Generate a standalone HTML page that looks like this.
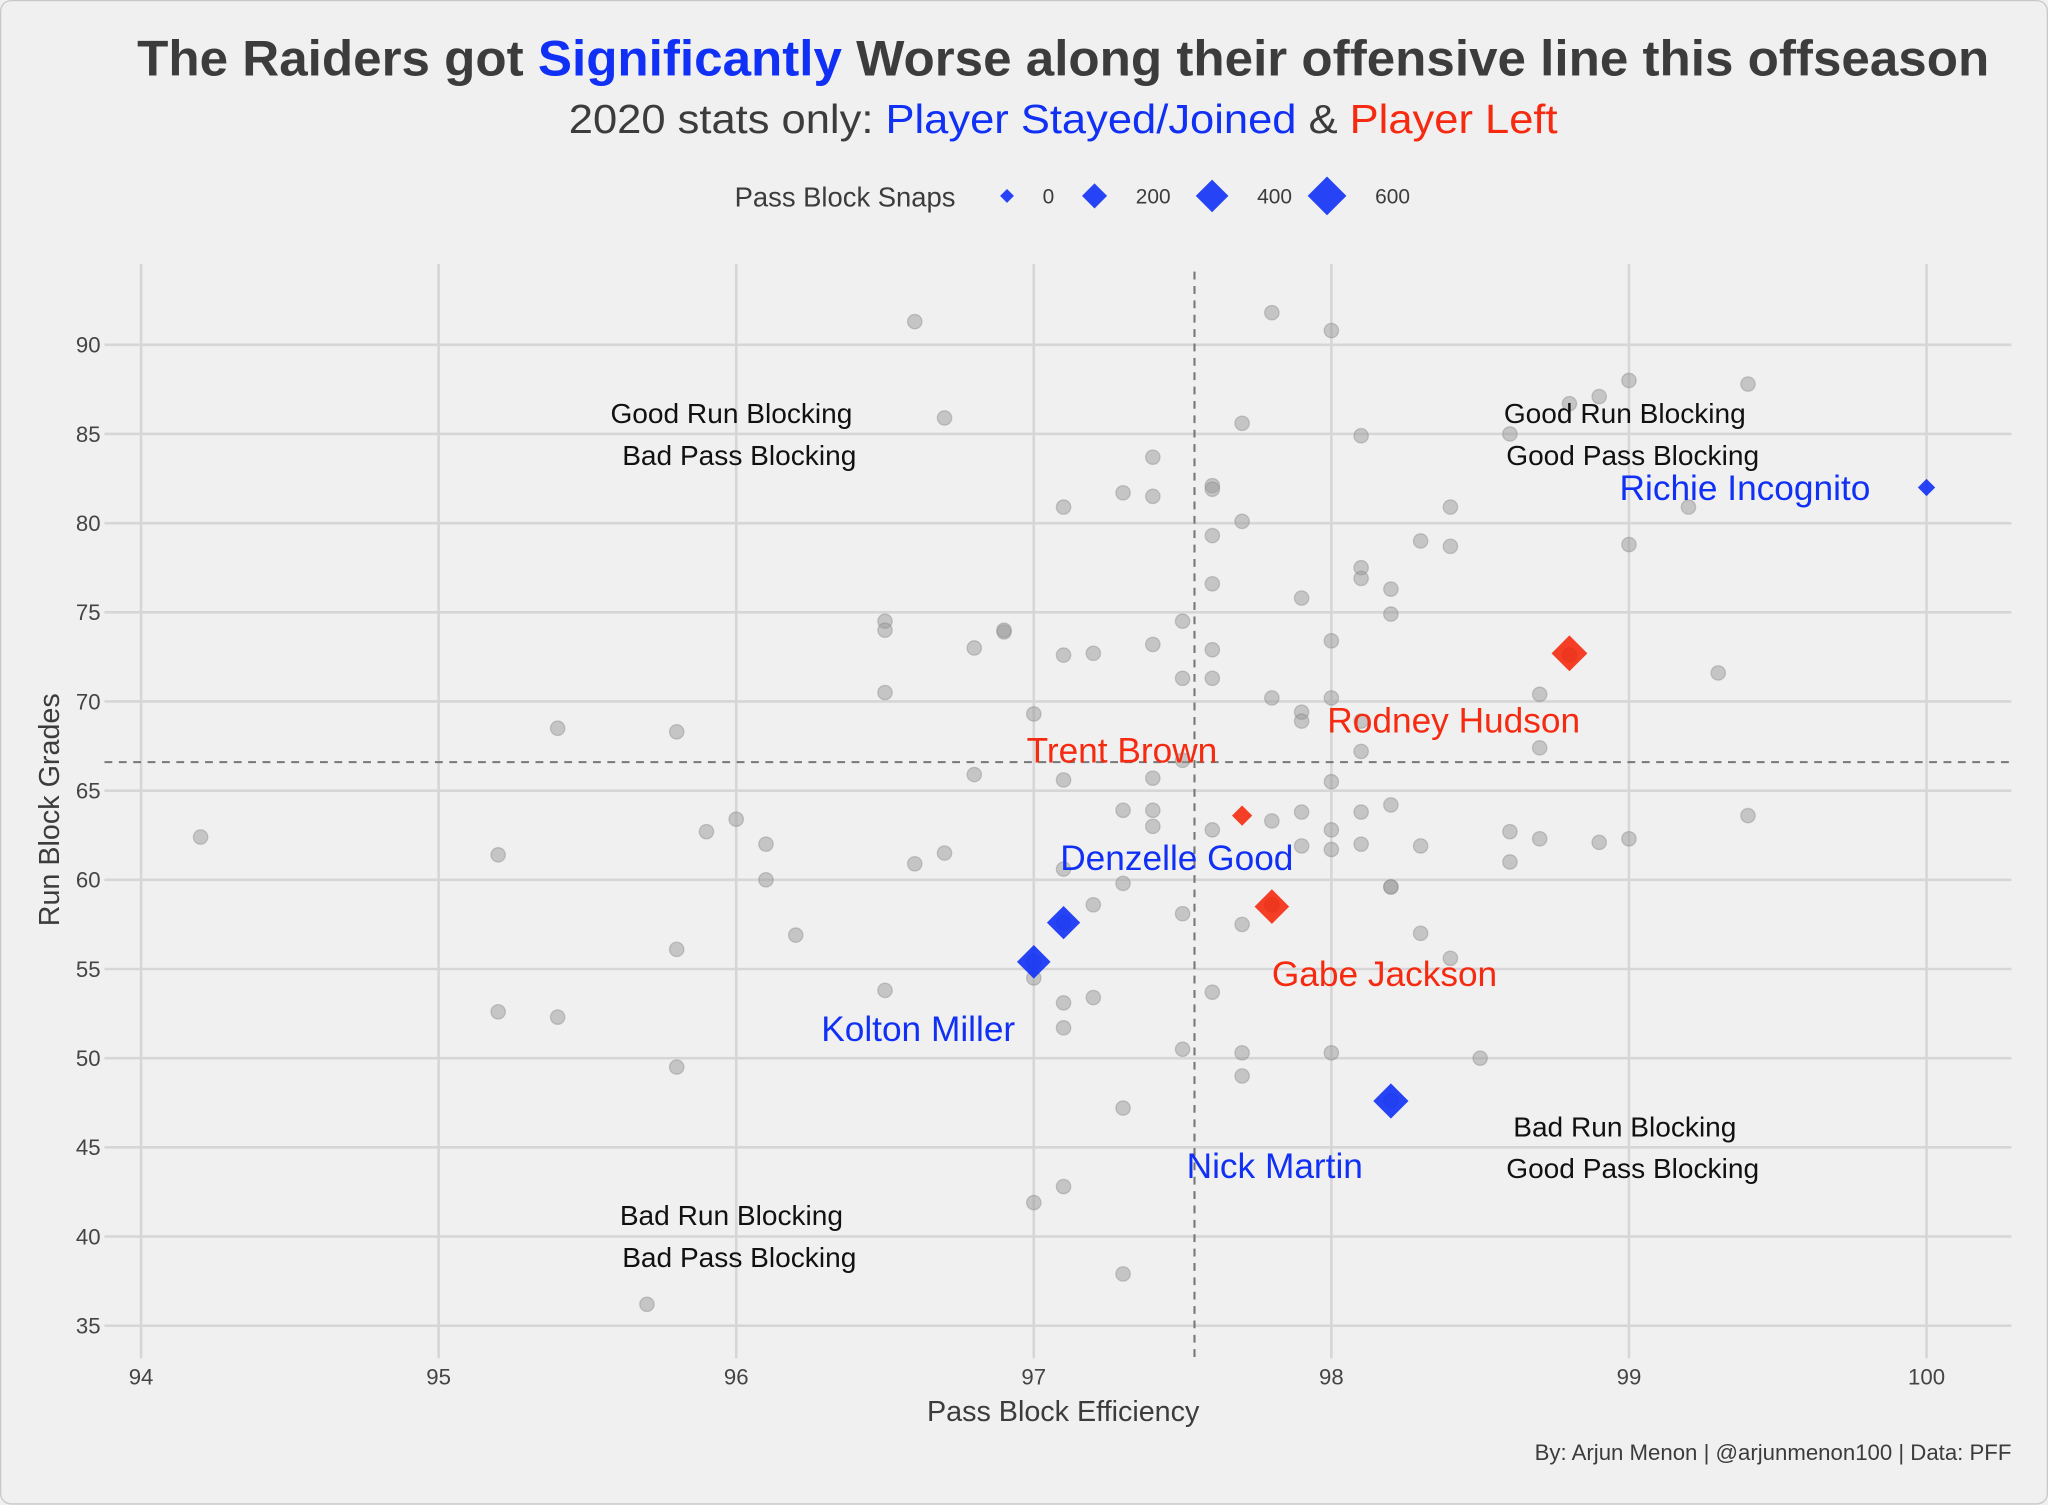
<!DOCTYPE html>
<html><head><meta charset="utf-8"><style>
html,body{margin:0;padding:0;background:#f0f0f0;}
svg{display:block;font-family:"Liberation Sans",Arial,sans-serif;}
</style></head><body>
<svg id="chart" width="2048" height="1505" viewBox="0 0 1568 1152.3" preserveAspectRatio="none" xmlns="http://www.w3.org/2000/svg">
<rect x="0.5" y="0.5" width="1567" height="1151" rx="8" fill="#f0f0f0" stroke="#c8c8c8"/>
<text x="814" y="58" text-anchor="middle" font-size="38" font-weight="bold" fill="#3c3c3c" textLength="1418" lengthAdjust="spacingAndGlyphs">The Raiders got <tspan fill="#1030f5">Significantly</tspan> Worse along their offensive line this offseason</text>
<text x="814" y="102" text-anchor="middle" font-size="31" fill="#3c3c3c" textLength="757" lengthAdjust="spacingAndGlyphs">2020 stats only: <tspan fill="#1030f5">Player Stayed/Joined</tspan> &amp; <tspan fill="#f52a10">Player Left</tspan></text>
<g id="legend"></g>
<g id="grid"></g>
<g id="points"></g>
<g id="annot">
<text font-size="21.5" fill="#111" text-anchor="middle"><tspan x="560" y="324">Good Run Blocking</tspan><tspan x="566" y="356">Bad Pass Blocking</tspan></text>
<text font-size="21.5" fill="#111" text-anchor="middle"><tspan x="1244" y="324">Good Run Blocking</tspan><tspan x="1250" y="356">Good Pass Blocking</tspan></text>
<text font-size="21.5" fill="#111" text-anchor="middle"><tspan x="1244" y="870">Bad Run Blocking</tspan><tspan x="1250" y="902">Good Pass Blocking</tspan></text>
<text font-size="21.5" fill="#111" text-anchor="middle"><tspan x="560" y="938">Bad Run Blocking</tspan><tspan x="566" y="970">Bad Pass Blocking</tspan></text>
</g>
<g id="labels"></g>
<text x="814" y="1088" text-anchor="middle" font-size="22" fill="#3c3c3c">Pass Block Efficiency</text>
<text transform="translate(45,620) rotate(-90)" text-anchor="middle" font-size="22" fill="#3c3c3c">Run Block Grades</text>
<text x="1540" y="1118" text-anchor="end" font-size="17" fill="#3c3c3c">By: Arjun Menon | @arjunmenon100 | Data: PFF</text>
</svg>
<script>
const xTicks=[94,95,96,97,98,99,100];
const yTicks=[35,40,45,50,55,60,65,70,75,80,85,90];
const otherX=[96.6,97.8,98,96.7,97.7,98.1,97.4,97.6,97.6,97.3,97.4,97.1,97.7,98.4,98.3,98.4,97.6,99,99.2,98.1,98.1,98.2,97.6,97.9,98.2,96.5,96.5,96.9,96.9,96.8,97.5,97.4,97.6,97.1,97.2,98,97.5,97.6,96.5,97.8,98,97.9,97.9,97,95.4,95.8,98.1,98.1,98.7,98.7,99.3,98.8,97.5,96.8,97.1,97.4,98,97.3,97.4,97.4,97.6,97.8,97.9,98.1,98.2,96,95.9,94.2,96.1,95.2,96.6,96.7,96.1,97.9,98,98,98.1,98.3,98.6,98.7,98.9,99,98.6,99.4,97.3,97.1,97.2,98.2,98.2,97.5,97.7,96.2,95.8,98.3,98.4,97.8,97,97.1,97.2,96.5,97.6,95.2,95.4,97.1,95.8,97.5,97.7,98,98.5,97.7,97.3,97.1,97,97.3,95.7,98.6,98.8,98.9,99,99.4,97,97.1,97.8,98.2,98.8];
const otherY=[91.3,91.8,90.8,85.9,85.6,84.9,83.7,82.1,81.9,81.7,81.5,80.9,80.1,80.9,79,78.7,79.3,78.8,80.9,77.5,76.9,76.3,76.6,75.8,74.9,74.5,74,73.9,74,73,74.5,73.2,72.9,72.6,72.7,73.4,71.3,71.3,70.5,70.2,70.2,69.4,68.9,69.3,68.5,68.3,68.9,67.2,70.4,67.4,71.6,72.6,66.7,65.9,65.6,65.7,65.5,63.9,63.9,63,62.8,63.3,63.8,63.8,64.2,63.4,62.7,62.4,62,61.4,60.9,61.5,60,61.9,61.7,62.8,62,61.9,62.7,62.3,62.1,62.3,61,63.6,59.8,60.6,58.6,59.6,59.6,58.1,57.5,56.9,56.1,57,55.6,58.6,54.5,53.1,53.4,53.8,53.7,52.6,52.3,51.7,49.5,50.5,50.3,50.3,50,49,47.2,42.8,41.9,37.9,36.2,85,86.7,87.1,88,87.8,55.4,57.6,58.6,47.6,72.6];
const players=["Richie Incognito","Denzelle Good","Kolton Miller","Nick Martin","Rodney Hudson","Trent Brown","Gabe Jackson"];
const playerX=[100,97.1,97,98.2,98.8,97.7,97.8];
const playerY=[82,57.6,55.4,47.6,72.7,63.6,58.5];
const playerSnaps=[50,420,430,480,500,100,460];
const playerStatus=["stay","stay","stay","stay","left","left","left"];
const legendValues=[0,200,400,600];
const refX=97.54, refY=66.6;

const NS="http://www.w3.org/2000/svg";
const X0=108,X1=1475,Y0=264,Y1=1015;
function sx(v){return X0+(v-94)*(X1-X0)/6;}
function sy(v){return Y0+(90-v)*(Y1-Y0)/55;}
function half(s){return Math.sqrt(28+0.32*s);}
function mk(tag,attrs,parent){const e=document.createElementNS(NS,tag);for(const k in attrs)e.setAttribute(k,attrs[k]);parent.appendChild(e);return e;}
const grid=document.getElementById('grid');
xTicks.forEach(t=>{
  const l=mk('line',{x1:sx(t),x2:sx(t),y1:202,y2:1040,stroke:'#d6d6d6','stroke-width':2},grid);
  
  
  const tx=mk('text',{x:sx(t),y:1060,'text-anchor':'middle','font-size':17,fill:'#444'},grid);
  tx.textContent=t;
  
  
});
yTicks.forEach(t=>{
  const l=mk('line',{x1:80,x2:1540,y1:sy(t),y2:sy(t),stroke:'#d6d6d6','stroke-width':2},grid);
  
  
  const tx=mk('text',{x:77,y:sy(t)+6,'text-anchor':'end','font-size':17,fill:'#444'},grid);
  tx.textContent=t;
  
  
});
const pts=document.getElementById('points');
const vr=mk('line',{x1:sx(refX),x2:sx(refX),y1:208,y2:1040,stroke:'#777','stroke-width':1.6,'stroke-dasharray':'6,5'},pts);


const hr=mk('line',{x1:80,x2:1540,y1:sy(refY),y2:sy(refY),stroke:'#777','stroke-width':1.6,'stroke-dasharray':'6,5'},pts);


otherX.forEach((x,i)=>{
  const c=mk('circle',{cx:sx(x),cy:sy(otherY[i]),r:5.5,fill:'#999','fill-opacity':0.5,stroke:'#888','stroke-opacity':0.4},pts);
  
  
});
function diamond(cx,cy,h,fill,parent){
  return mk('polygon',{points:`${cx},${cy-h} ${cx+h},${cy} ${cx},${cy+h} ${cx-h},${cy}`,fill:fill,'fill-opacity':0.9},parent);
}
players.forEach((p,i)=>{
  const d=diamond(sx(playerX[i]),sy(playerY[i]),half(playerSnaps[i]),playerStatus[i]==='stay'?'#1030f5':'#f52a10',pts);
  
  
});
const labPos=[[1432,383,'end'],[901,666,'middle'],[703,797,'middle'],[976,902,'middle'],[1113,561,'middle'],[859,584,'middle'],[1060,755,'middle']];
const labs=document.getElementById('labels');
players.forEach((p,i)=>{
  const t=mk('text',{x:labPos[i][0],y:labPos[i][1],'text-anchor':labPos[i][2],'font-size':27,fill:playerStatus[i]==='stay'?'#1030f5':'#f52a10'},labs);
  t.textContent=p;
  
  
});
const lg=document.getElementById('legend');
const lt=mk('text',{x:647,y:158,'text-anchor':'middle','font-size':21,fill:'#3c3c3c'},lg);
lt.textContent='Pass Block Snaps';


const lgX=[771,838,928,1016];
legendValues.forEach((v,i)=>{
  const d=diamond(lgX[i],150,half(v),'#1030f5',lg);
  
  
  const t=mk('text',{x:lgX[i]+half(v)+22,y:156,'font-size':16,fill:'#3c3c3c'},lg);
  t.textContent=v;
  
  
});
</script>
</body></html>
